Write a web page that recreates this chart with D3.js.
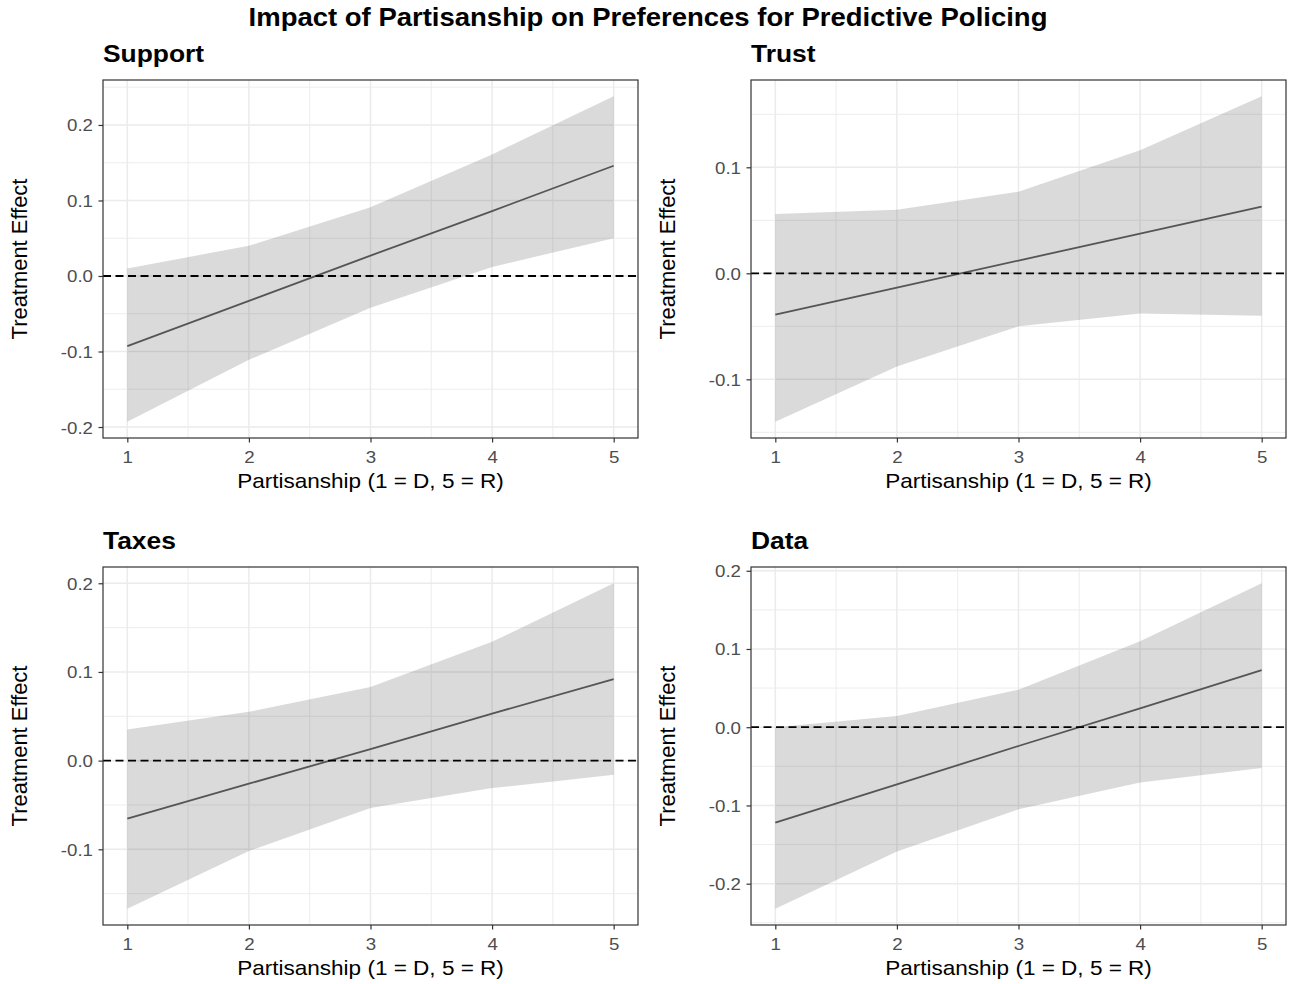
<!DOCTYPE html>
<html>
<head>
<meta charset="utf-8">
<script src="https://cdn.jsdelivr.net/npm/d3@7"></script>
<style>
  body { margin: 0; background: #fff; }
  text { font-family: "Liberation Sans", Arial, sans-serif; }
</style>
</head>
<body>
<svg id="chart" width="1291" height="984"></svg>
<script>
// partisanship scale on the x axis
var partisanship = [1, 2, 3, 4, 5];
var xTicks = [1, 2, 3, 4, 5];

// Support
var supportFit   = [-0.093, -0.033, 0.027, 0.086, 0.146];
var supportLower = [-0.193, -0.111, -0.042, 0.012, 0.050];
var supportUpper = [0.010, 0.040, 0.091, 0.161, 0.238];
var supportTicks = [-0.2, -0.1, 0.0, 0.1, 0.2];
var supportTickLabels = ["-0.2", "-0.1", "0.0", "0.1", "0.2"];

// Trust
var trustFit   = [-0.039, -0.0135, 0.012, 0.0375, 0.063];
var trustLower = [-0.140, -0.088, -0.050, -0.038, -0.040];
var trustUpper = [0.056, 0.060, 0.077, 0.116, 0.167];
var trustTicks = [-0.1, 0.0, 0.1];
var trustTickLabels = ["-0.1", "0.0", "0.1"];

// Taxes
var taxesFit   = [-0.0655, -0.026, 0.013, 0.053, 0.092];
var taxesLower = [-0.167, -0.102, -0.0535, -0.031, -0.016];
var taxesUpper = [0.035, 0.055, 0.083, 0.134, 0.200];
var taxesTicks = [-0.1, 0.0, 0.1, 0.2];
var taxesTickLabels = ["-0.1", "0.0", "0.1", "0.2"];

// Data
var dataFit   = [-0.122, -0.073, -0.024, 0.024, 0.073];
var dataLower = [-0.232, -0.159, -0.105, -0.0705, -0.052];
var dataUpper = [0.000, 0.0145, 0.048, 0.110, 0.184];
var dataTicks = [-0.2, -0.1, 0.0, 0.1, 0.2];
var dataTickLabels = ["-0.2", "-0.1", "0.0", "0.1", "0.2"];

var panels = [
    { title: "Support", fit: supportFit, lower: supportLower, upper: supportUpper, ticks: supportTicks, labels: supportTickLabels, col: 0, row: 0 },
    { title: "Trust",   fit: trustFit,   lower: trustLower,   upper: trustUpper,   ticks: trustTicks,   labels: trustTickLabels,   col: 1, row: 0 },
    { title: "Taxes",   fit: taxesFit,   lower: taxesLower,   upper: taxesUpper,   ticks: taxesTicks,   labels: taxesTickLabels,   col: 0, row: 1 },
    { title: "Data",    fit: dataFit,    lower: dataLower,    upper: dataUpper,    ticks: dataTicks,    labels: dataTickLabels,    col: 1, row: 1 }
];

var svg = d3.select("#chart");
var lefts = [103, 751], tops = [80, 567];
var pw = 535, ph = 358;
var sx = 1.1; // text in the picture is a little wide

svg.append("text")
    .attr("transform", "translate(648,26) scale(" + sx + ",1)")
    .attr("text-anchor", "middle")
    .style("font-size", "25px")
    .style("font-weight", "bold")
    .text("Impact of Partisanship on Preferences for Predictive Policing");

panels.forEach(function (p) {
    var x0 = lefts[p.col], y0 = tops[p.row];
    var g = svg.append("g").attr("transform", "translate(" + x0 + "," + y0 + ")");

    // ggplot-like 5% expansion
    var lo = d3.min(p.lower), hi = d3.max(p.upper), pad = (hi - lo) * 0.05;
    var x = d3.scaleLinear().domain([0.8, 5.2]).range([0, pw]);
    var y = d3.scaleLinear().domain([lo - pad, hi + pad]).range([ph, 0]);

    // minor grid
    var step = p.ticks[1] - p.ticks[0];
    var yMinor = [p.ticks[0] - step / 2].concat(p.ticks.map(function (t) { return t + step / 2; }))
        .filter(function (v) { return v > y.domain()[0] && v < y.domain()[1]; });
    var xMinor = [1.5, 2.5, 3.5, 4.5];

    g.selectAll(".ymin").data(yMinor).enter().append("line")
        .attr("x1", 0).attr("x2", pw)
        .attr("y1", function (d) { return y(d); }).attr("y2", function (d) { return y(d); })
        .attr("stroke", "#EBEBEB").attr("stroke-width", 0.9);
    g.selectAll(".xmin").data(xMinor).enter().append("line")
        .attr("y1", 0).attr("y2", ph)
        .attr("x1", function (d) { return x(d); }).attr("x2", function (d) { return x(d); })
        .attr("stroke", "#EBEBEB").attr("stroke-width", 0.9);

    // major grid
    g.selectAll(".ymaj").data(p.ticks).enter().append("line")
        .attr("x1", 0).attr("x2", pw)
        .attr("y1", function (d) { return y(d); }).attr("y2", function (d) { return y(d); })
        .attr("stroke", "#EBEBEB").attr("stroke-width", 1.5);
    g.selectAll(".xmaj").data(xTicks).enter().append("line")
        .attr("y1", 0).attr("y2", ph)
        .attr("x1", function (d) { return x(d); }).attr("x2", function (d) { return x(d); })
        .attr("stroke", "#EBEBEB").attr("stroke-width", 1.5);

    // confidence ribbon
    var area = d3.area()
        .x(function (d, i) { return x(partisanship[i]); })
        .y0(function (d, i) { return y(p.lower[i]); })
        .y1(function (d) { return y(d); });
    g.append("path").datum(p.upper)
        .attr("d", area)
        .attr("fill", "#333333").attr("fill-opacity", 0.18);

    // fitted line
    var line = d3.line()
        .x(function (d, i) { return x(partisanship[i]); })
        .y(function (d) { return y(d); });
    g.append("path").datum(p.fit)
        .attr("d", line)
        .attr("fill", "none").attr("stroke", "#555555").attr("stroke-width", 1.8);

    // zero reference
    g.append("line")
        .attr("x1", 0).attr("x2", pw)
        .attr("y1", y(0)).attr("y2", y(0))
        .attr("stroke", "#000").attr("stroke-width", 1.8)
        .attr("stroke-dasharray", "8,4.5");

    // border
    g.append("rect").attr("width", pw).attr("height", ph)
        .attr("fill", "none").attr("stroke", "#333333").attr("stroke-width", 1.2);

    // axes
    var xAxis = d3.axisBottom(x).tickValues(xTicks).tickSize(4.5).tickFormat(d3.format("d"));
    var gx = g.append("g").attr("transform", "translate(0," + ph + ")").call(xAxis);
    var yAxis = d3.axisLeft(y).tickValues(p.ticks).tickSize(4.5)
        .tickFormat(function (d, i) { return p.labels[i]; });
    var gy = g.append("g").call(yAxis);

    [gx, gy].forEach(function (a) {
        a.select(".domain").remove();
        a.selectAll(".tick line").attr("stroke", "#333333").attr("stroke-width", 1.2);
        a.selectAll(".tick text").attr("fill", "#4D4D4D")
            .style("font-size", "17px")
            .style("font-family", "'Liberation Sans', Arial, sans-serif");
    });
    gx.selectAll(".tick text").attr("dy", null).attr("y", 0)
        .attr("transform", "translate(0,25) scale(" + sx + ",1)");
    gy.selectAll(".tick text").attr("x", 0).attr("dy", null)
        .attr("transform", "translate(-10,6) scale(" + sx + ",1)");

    // titles
    g.append("text")
        .attr("transform", "translate(0,-18) scale(" + sx + ",1)")
        .style("font-size", "24px").style("font-weight", "bold")
        .text(p.title);

    g.append("text")
        .attr("transform", "translate(" + pw / 2 + "," + (ph + 50) + ") scale(" + sx + ",1)")
        .attr("text-anchor", "middle")
        .style("font-size", "20.5px")
        .text("Partisanship (1 = D, 5 = R)");

    g.append("text")
        .attr("transform", "translate(-76," + ph / 2 + ") rotate(-90) scale(1.07,1.1)")
        .attr("text-anchor", "middle")
        .style("font-size", "20.5px")
        .text("Treatment Effect");
});
</script>
</body>
</html>
